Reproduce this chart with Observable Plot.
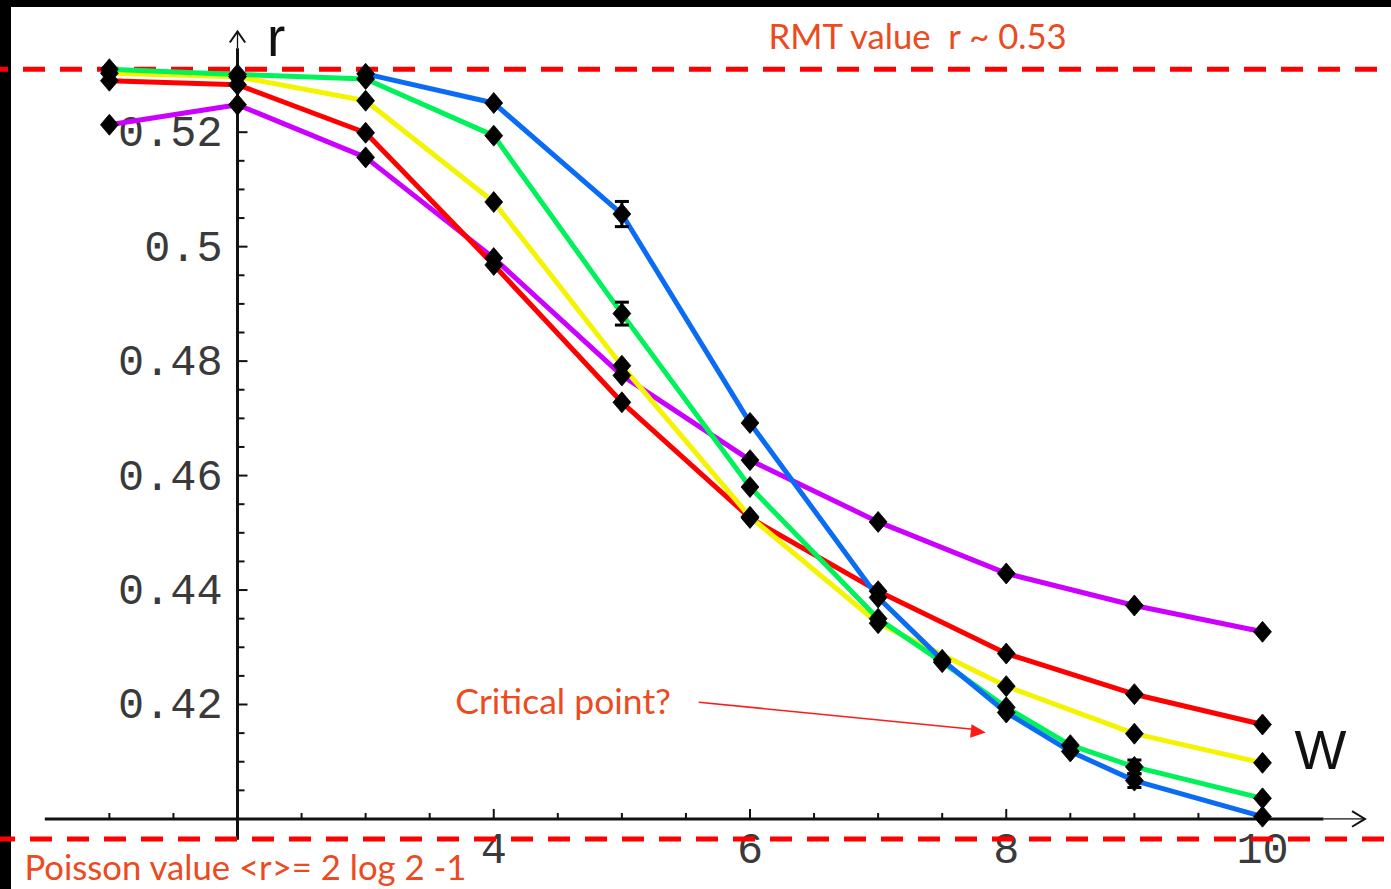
<!DOCTYPE html>
<html>
<head>
<meta charset="utf-8">
<script src="https://cdn.jsdelivr.net/npm/d3@7"></script>
<script src="https://cdn.jsdelivr.net/npm/@observablehq/plot@0.6"></script>
<style>
  html, body { margin: 0; padding: 0; background: #fff; }
  #frame { position: relative; width: 1391px; height: 889px; overflow: hidden; background: #fff; }
  #frame .bar { position: absolute; background: #000; }
  #chart { position: absolute; left: 0; top: 0; }
</style>
</head>
<body>
<div id="frame">
  <div class="bar" style="left:0;top:0;width:1391px;height:7px"></div>
  <div class="bar" style="left:0;top:0;width:11px;height:889px"></div>
  <div id="chart"></div>
</div>
<script>
// Mean level-spacing ratio r versus disorder strength W, one curve per system.
const seriesNames = ["magenta", "red", "yellow", "green", "blue"];
const seriesColors = ["#cc00ff", "#ff0000", "#f4f400", "#00f25a", "#0a6cf5"];

const wMagenta = [1, 2, 3, 4, 5, 6, 7, 8, 9, 10];
const rMagenta = [0.5213, 0.5248, 0.5156, 0.4980, 0.4775, 0.4627, 0.4519, 0.4429, 0.4373, 0.4327];
const eMagenta = [0, 0, 0, 0, 0, 0, 0, 0, 0, 0];

const wRed = [1, 2, 3, 4, 5, 6, 7, 8, 9, 10];
const rRed = [0.5290, 0.5283, 0.5199, 0.4968, 0.4728, 0.4526, 0.4398, 0.4289, 0.4218, 0.4165];
const eRed = [0, 0, 0, 0, 0, 0, 0, 0, 0, 0];

const wYellow = [1, 2, 3, 4, 5, 6, 7, 8, 9, 10];
const rYellow = [0.5303, 0.5297, 0.5255, 0.5078, 0.4792, 0.4528, 0.4342, 0.4232, 0.4149, 0.4098];
const eYellow = [0, 0, 0, 0, 0, 0, 0, 0, 0, 0];

const wGreen = [1, 2, 3, 4, 5, 6, 7, 7.5, 8, 8.5, 9, 10];
const rGreen = [0.5310, 0.5301, 0.5293, 0.5194, 0.4883, 0.4580, 0.4350, 0.4274, 0.4195, 0.4129, 0.4091, 0.4036];
const eGreen = [0, 0, 0, 0, 0.0020, 0, 0, 0, 0, 0, 0.0012, 0];

const wBlue = [3, 4, 5, 6, 7, 7.5, 8, 8.5, 9, 10];
const rBlue = [0.5302, 0.5251, 0.5057, 0.4692, 0.4387, 0.4278, 0.4186, 0.4118, 0.4067, 0.4004];
const eBlue = [0, 0, 0.0022, 0, 0, 0, 0, 0, 0.0012, 0];

// Reference levels
const rmtLevel = 0.531;
const poissonLevel = 0.3965;

// Axis ticks
const xTickValues = [4, 6, 8, 10];
const xTickLabels = ["4", "6", "8", "10"];
const yTickValues = [0.42, 0.44, 0.46, 0.48, 0.5, 0.52];
const yTickLabels = ["0.42", "0.44", "0.46", "0.48", "0.5", "0.52"];

// Annotations
const rmtText = "RMT value\u00a0 r ~ 0.53";
const poissonText = "Poisson value <r>= 2 log 2 -1";
const criticalText = "Critical point?";

const seriesW = [wMagenta, wRed, wYellow, wGreen, wBlue];
const seriesR = [rMagenta, rRed, rYellow, rGreen, rBlue];
const seriesE = [eMagenta, eRed, eYellow, eGreen, eBlue];

const tables = seriesNames.map((name, k) =>
  seriesW[k].map((W, i) => ({series: name, W, r: seriesR[k][i], e: seriesE[k][i]})));
const allPoints = tables.flat();
const errPoints = allPoints.filter(d => d.e > 0);

// Custom path symbols (size = pi * r^2)
const rad = size => Math.sqrt(size / Math.PI);
const diamond = {draw(c, s) { const r = rad(s), w = r * 0.85; c.moveTo(0, -r); c.lineTo(w, 0); c.lineTo(0, r); c.lineTo(-w, 0); c.closePath(); }};
const tickUp = {draw(c, s) { const r = rad(s); c.moveTo(0, 0); c.lineTo(0, -r); }};
const tickRight = {draw(c, s) { const r = rad(s); c.moveTo(0, 0); c.lineTo(r, 0); }};
const capLine = {draw(c, s) { const r = rad(s); c.moveTo(-r, 0); c.lineTo(r, 0); }};
const chevronUp = {draw(c, s) { const r = rad(s); c.moveTo(-0.7 * r, r); c.lineTo(0, 0); c.lineTo(0.7 * r, r); }};
const chevronRight = {draw(c, s) { const r = rad(s); c.moveTo(-r, -0.6 * r); c.lineTo(0, 0); c.lineTo(-r, 0.6 * r); }};
const headRight = {draw(c, s) { const r = rad(s); c.moveTo(0, 0); c.lineTo(-r, -0.45 * r); c.lineTo(-r, 0.45 * r); c.closePath(); }};

const yMinor = d3.range(0.405, 0.5301, 0.005).map(v => +v.toFixed(3)).filter(v => !yTickValues.some(t => Math.abs(t - v) < 1e-9));
const xMinor = d3.range(1, 9.51, 0.5).filter(v => v !== 2 && !xTickValues.includes(v));

const axisColor = "#111";
const noteColor = "#ec4a20";

const marks = [
  // axes
  Plot.ruleY([0.40], {x1: 0.5, x2: 10.48, stroke: axisColor, strokeWidth: 3}),
  Plot.ruleY([0.40], {x1: 10.48, x2: 10.8, stroke: axisColor, strokeWidth: 1.3}),
  Plot.dot([{W: 10.8, r: 0.40}], {x: "W", y: "r", symbol: chevronRight, r: 13, fill: "none", stroke: axisColor, strokeWidth: 2}),
  Plot.ruleX([2], {y1: 0.3963, y2: 0.5346, stroke: axisColor, strokeWidth: 3}),
  Plot.ruleX([2], {y1: 0.5346, y2: 0.5376, stroke: axisColor, strokeWidth: 1.3}),
  Plot.dot([{W: 2, r: 0.5376}], {x: "W", y: "r", symbol: chevronUp, r: 11, fill: "none", stroke: axisColor, strokeWidth: 2}),
  // ticks
  Plot.dot(xTickValues, {x: d => d, y: () => 0.40, symbol: tickUp, r: 10, fill: "none", stroke: axisColor, strokeWidth: 2}),
  Plot.dot(xMinor, {x: d => d, y: () => 0.40, symbol: tickUp, r: 6, fill: "none", stroke: axisColor, strokeWidth: 2}),
  Plot.dot(yTickValues, {x: () => 2, y: d => d, symbol: tickRight, r: 10, fill: "none", stroke: axisColor, strokeWidth: 2}),
  Plot.dot(yMinor, {x: () => 2, y: d => d, symbol: tickRight, r: 7, fill: "none", stroke: axisColor, strokeWidth: 2}),
  // tick labels
  Plot.text(yTickValues, {x: () => 2, y: d => d, text: (d, i) => yTickLabels[i], textAnchor: "end", dx: -15, dy: 0,
    fontFamily: "Liberation Mono", fontSize: 43.5, fill: "#3a3a3a"}),
  Plot.text(xTickValues, {x: d => d, y: () => 0.40, text: (d, i) => xTickLabels[i], lineAnchor: "bottom", dy: 44,
    fontFamily: "Liberation Mono", fontSize: 43.5, fill: "#3a3a3a"}),
  // axis titles
  Plot.text(["r"], {x: () => 2.23, y: () => 0.5334, text: d => d, textAnchor: "start", lineAnchor: "bottom",
    fontFamily: "Liberation Sans", fontSize: 55, fill: "#111"}),
  Plot.text(["W"], {x: () => 10.25, y: () => 0.4087, text: d => d, textAnchor: "start", lineAnchor: "bottom",
    fontFamily: "Liberation Sans", fontSize: 55, fill: "#111"}),
  // reference levels
  Plot.ruleY([rmtLevel], {stroke: "#ff0000", strokeWidth: 5, strokeDasharray: "22,15", strokeDashoffset: 14}),
  Plot.ruleY([poissonLevel], {stroke: "#ff0000", strokeWidth: 5, strokeDasharray: "22,15", strokeDashoffset: 7}),
  // annotations
  Plot.text([rmtText], {x: () => 6.145, y: () => 0.53462, text: d => d, textAnchor: "start", lineAnchor: "bottom",
    fontFamily: "Lato", fontSize: 34.7, fill: noteColor}),
  Plot.text([poissonText], {x: () => 0.337, y: () => 0.3893, text: d => d, textAnchor: "start", lineAnchor: "bottom",
    fontFamily: "Lato", fontSize: 34.7, fill: noteColor}),
  Plot.text([criticalText], {x: () => 3.70, y: () => 0.41827, text: d => d, textAnchor: "start", lineAnchor: "bottom",
    fontFamily: "Lato", fontSize: 35.5, fill: noteColor}),
  Plot.link([{W1: 5.6, r1: 0.4204, W2: 7.80, r2: 0.41555}], {x1: "W1", y1: "r1", x2: "W2", y2: "r2", stroke: "#ff1a1a", strokeWidth: 1.6}),
  Plot.dot([{W: 7.84, r: 0.4151}], {x: "W", y: "r", symbol: headRight, r: 15, rotate: 6, fill: "#ff1a1a", stroke: "none"}),
  // curves
  ...seriesNames.map((name, k) => Plot.line(tables[k], {x: "W", y: "r", stroke: seriesColors[k], strokeWidth: 5, strokeLinejoin: "round"})),
  // error bars
  Plot.ruleX(errPoints, {x: "W", y1: d => d.r - d.e, y2: d => d.r + d.e, stroke: "#000", strokeWidth: 3}),
  Plot.dot(errPoints, {x: "W", y: d => d.r - d.e, symbol: capLine, r: 7, fill: "none", stroke: "#000", strokeWidth: 3}),
  Plot.dot(errPoints, {x: "W", y: d => d.r + d.e, symbol: capLine, r: 7, fill: "none", stroke: "#000", strokeWidth: 3}),
  // markers
  Plot.dot(allPoints, {x: "W", y: "r", symbol: diamond, r: 10.5, fill: "#000", stroke: "#000", strokeWidth: 0.8})
];

const chart = Plot.plot({
  width: 1391,
  height: 889,
  margin: 0,
  style: {background: "transparent", overflow: "visible"},
  x: {domain: [2, 10], range: [237, 1262], axis: null},
  y: {domain: [0.42, 0.52], range: [704, 131.7], axis: null},
  marks
});
document.getElementById("chart").append(chart);
</script>
</body>
</html>
